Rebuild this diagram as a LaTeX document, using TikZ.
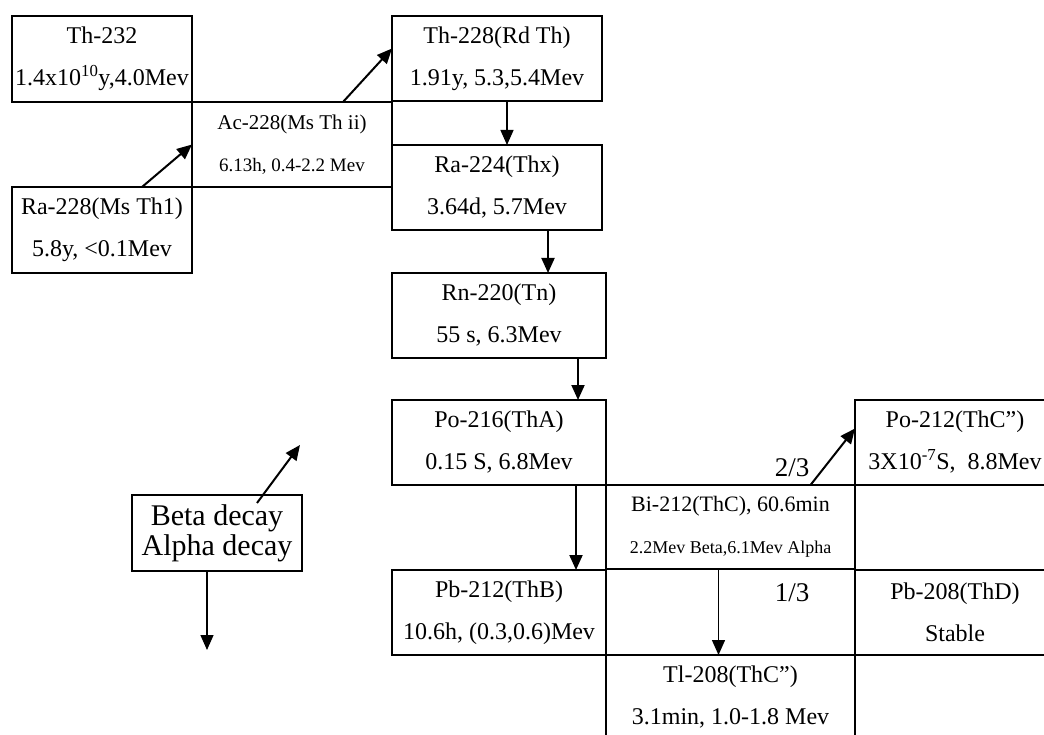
\documentclass[tikz,border=0pt]{standalone}
\usepackage{fontspec}
\setmainfont{Liberation Serif}
\usetikzlibrary{arrows.meta,positioning}
\tikzset{
  cell/.style={draw, line width=2pt, anchor=north west, align=center,
               inner sep=0pt, outer sep=0pt, font=\fontsize{24}{42}\selectfont},
  legendbox/.style={draw, line width=2pt, align=center, inner sep=0pt,
               outer sep=0pt, font=\fontsize{30}{30}\selectfont},
  decay/.style={-{Triangle[length=15pt,width=13pt]}, line width=2pt},
  drop/.style={-{Triangle[length=15pt,width=13pt]}, line width=1.4pt},
  share/.style={font=\fontsize{27}{30}\selectfont, inner sep=0pt},
}

\begin{document}
\begin{tikzpicture}[x=1pt, y=-1pt]
  \useasboundingbox (0,0) rectangle (1044,735);
  \clip (0,0) rectangle (1044,735);
  \fill[white] (0,0) rectangle (1044,735);

  \node[cell, minimum width=180pt, minimum height=86pt] (th232) at (12,16)
    {Th-232\\1.4x10\textsuperscript{10}y,4.0Mev};
  \node[cell, minimum width=200pt, minimum height=85pt] (ac228) at (th232.south east)
    {{\fontsize{21}{43}\selectfont Ac-228(Ms Th ii)}\\{\fontsize{19}{43}\selectfont 6.13h, 0.4-2.2 Mev}};
  \node[cell, minimum width=180pt, minimum height=86pt] (ra228) at (12,187)
    {Ra-228(Ms Th1)\\5.8y, <0.1Mev};
  \node[cell, minimum width=210pt, minimum height=85pt] (th228) at (392,16)
    {Th-228(Rd Th)\\1.91y, 5.3,5.4Mev};
  \node[cell, minimum width=210pt, minimum height=85pt] (ra224) at (392,145)
    {Ra-224(Thx)\\3.64d, 5.7Mev};
  \node[cell, minimum width=214pt, minimum height=85pt] (rn220) at (392,273)
    {Rn-220(Tn)\\55 s, 6.3Mev};
  \node[cell, minimum width=214pt, minimum height=85pt] (po216) at (392,400)
    {Po-216(ThA)\\0.15 S, 6.8Mev};
  \node[cell, minimum width=249pt, minimum height=84pt] (bi212) at (po216.south east)
    {{\fontsize{22}{40}\selectfont Bi-212(ThC), 60.6min}\\{\fontsize{18}{40}\selectfont 2.2Mev Beta,6.1Mev Alpha}};
  \node[cell, minimum width=200pt, minimum height=85pt] (po212) at (855,400)
    {Po-212(ThC'')\\3X10\textsuperscript{-7}S,\ \ 8.8Mev};
  \node[cell, minimum width=214pt, minimum height=85pt] (pb212) at (392,570)
    {Pb-212(ThB)\\10.6h, (0.3,0.6)Mev};
  \node[cell, minimum width=200pt, minimum height=85pt] (pb208) at (855,570)
    {Pb-208(ThD)\\Stable};
  \node[cell, minimum width=249pt, minimum height=85pt] (tl208) at (606,655)
    {Tl-208(ThC'')\\3.1min, 1.0-1.8 Mev};

  \node[legendbox, minimum width=170pt, minimum height=76pt] (legend) at (217,533)
    {Beta decay\\Alpha decay};
  \coordinate (betatip) at (300,445);
  \coordinate (alphatip) at (207,650);

  \node[share] (twothirds) at (792,468) {2/3};
  \node[share] (onethird) at (792,593) {1/3};

  \draw[decay] ([xshift=51pt]ac228.north) -- ([yshift=10pt]th228.west);
  \draw[decay] ([xshift=40pt]ra228.north) -- (ac228.west);
  \draw[drop] ([xshift=10pt]th228.south) -- ([xshift=10pt]th228.south |- ra224.north);
  \draw[decay] ([xshift=51pt]ra224.south) -- ([xshift=51pt]ra224.south |- rn220.north);
  \draw[decay] ([xshift=79pt]rn220.south) -- ([xshift=79pt]rn220.south |- po216.north);
  \draw[decay] ([xshift=77pt]po216.south) -- ([xshift=77pt]po216.south |- pb212.north);
  \draw[decay] ([xshift=80pt]bi212.north) -- ([yshift=14pt]po212.west);
  \draw[drop] ([xshift=-12pt]bi212.south) -- ([xshift=-12pt]bi212.south |- tl208.north);
  \draw[decay] ([xshift=40pt,yshift=-8pt]legend.north) -- (betatip);
  \draw[drop] ([xshift=-10pt]legend.south) -- (alphatip);
\end{tikzpicture}
\end{document}
